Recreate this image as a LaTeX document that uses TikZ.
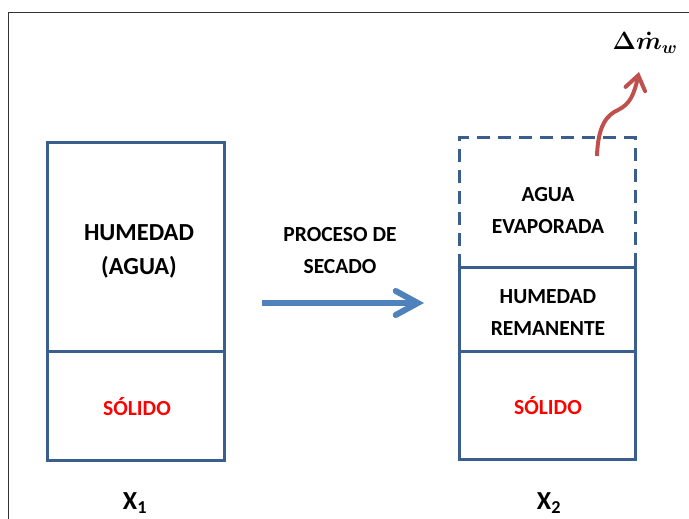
\RequirePackage{fix-cm}
\documentclass[tikz,border=0pt]{standalone}
\usepackage{amsmath,bm}
\usepackage{fontspec}
\setmainfont{Carlito}
\usepackage{tikz}
\usetikzlibrary{arrows.meta}
\usepackage{xcolor}
\definecolor{boxblue}{HTML}{3A5E8E}
\definecolor{arrowblue}{HTML}{4F81BD}
\definecolor{arrowred}{HTML}{C0504D}

\tikzset{
  caja/.style={draw=boxblue, line width=3pt},
  rotulo/.style={font=\bfseries\fontsize{21.5}{32}\selectfont, align=center},
  solido/.style={rotulo, text=red},
}

\begin{document}
\begin{tikzpicture}[x=1pt,y=-1pt]
\useasboundingbox (0,0) rectangle (689,519);
% marco
\draw[black!80, line width=1.3pt] (8.5,519)--(8.5,12.5)--(689,12.5);
% estado inicial
\draw[caja] (47,143) rectangle (224,460);
\draw[caja] (47,351)--(224,351);
\node[rotulo, font=\bfseries\fontsize{24.5}{34}\selectfont] (hum1) at (139,251) {HUMEDAD\\(AGUA)};
\node[solido] (sol1) at (137,407) {SÓLIDO};
\node[font=\bfseries\fontsize{26}{30}\selectfont] (x1) at (135,503) {X\textsubscript{1}};
% proceso
\node[rotulo] (proc) at (340,251) {PROCESO DE\\SECADO};
\coordinate (p1) at (262,303);
\coordinate (p2) at (424,303);
\draw[arrowblue, line width=6pt, -{Straight Barb[length=22pt,width=24pt,line cap=round]}] (p1)--(p2);
% estado final
\draw[caja, dash pattern=on 13pt off 8pt] (459,267)--(459,138)--(635,138)--(635,267);
\draw[caja] (459,267) rectangle (635,459);
\draw[caja] (459,351)--(635,351);
\node[rotulo] (evap) at (548,211) {AGUA\\EVAPORADA};
\node[rotulo] (hum2) at (548,313) {HUMEDAD\\REMANENTE};
\node[solido] (sol2) at (548,406) {SÓLIDO};
\node[font=\bfseries\fontsize{26}{30}\selectfont] (x2) at (549,503) {X\textsubscript{2}};
% agua que sale
\node[font=\fontsize{25}{30}\selectfont\boldmath] (dm) at (645,43) {$\Delta\dot{m}_w$};
\coordinate (v0) at (597,156);
\coordinate (v1) at (639,72);
\draw[arrowred, line width=4pt, -{Straight Barb[length=14pt,width=20pt,line cap=round]}]
  (v0) .. controls (598,125) and (607,115) .. (618,110) .. controls (630,104) and (634,95) .. (v1);
\end{tikzpicture}
\end{document}
